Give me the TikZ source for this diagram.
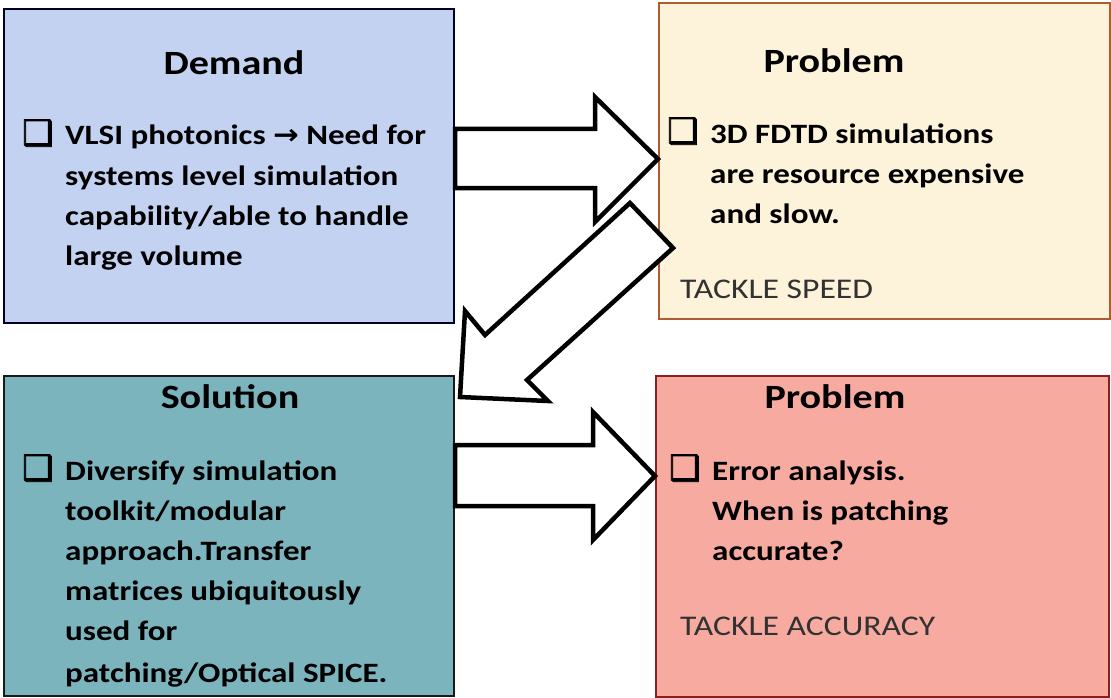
\documentclass[tikz,border=0pt]{standalone}
\usepackage{fontspec}
\setmainfont[FakeStretch=1.18]{Carlito}
\newfontfamily\dejavu[FakeStretch=1.1]{DejaVu Sans}
\newfontfamily\bulfont[FakeBold=2.5]{DejaVu Sans}
\usetikzlibrary{calc}
\definecolor{demandc}{RGB}{196,210,242}
\definecolor{solc}{RGB}{124,180,190}
\definecolor{probAc}{RGB}{253,242,218}
\definecolor{probBc}{RGB}{246,170,160}
\definecolor{probAline}{RGB}{178,90,50}
\definecolor{probBline}{RGB}{140,30,30}
\definecolor{tacklec}{RGB}{50,50,50}
\begin{document}
\begin{tikzpicture}[x=1pt,y=-1pt,
  box/.style={draw, line width=2pt, anchor=north west, inner sep=0pt},
  title/.style={font=\bfseries\fontsize{34}{40}\selectfont, anchor=base, inner sep=0pt},
  body/.style={font=\bfseries\fontsize{28}{40}\selectfont, anchor=base west, inner sep=0pt},
  tackle/.style={font=\fontsize{28.5}{40}\selectfont, text=tacklec, anchor=base west, inner sep=0pt},
  bul/.style={font=\bulfont\fontsize{35}{40}\selectfont, anchor=base west, inner sep=0pt},
  blockarrow/.style={draw=black, line width=4.5pt, fill=white, line join=miter}]
\useasboundingbox (0,0) rectangle (1111,698);
\fill[white] (0,0) rectangle (1111,698);

% boxes
\node[box, fill=demandc, draw=black!85!blue, minimum width=450pt, minimum height=314pt] (demand) at (3,8) {};
\node[box, fill=probAc, draw=probAline, minimum width=451pt, minimum height=316pt] (probA) at (658,2) {};
\node[box, fill=solc, draw=black!90, minimum width=450pt, minimum height=320pt] (sol) at (3,375) {};
\node[box, fill=probBc, draw=probBline, minimum width=453pt, minimum height=321pt] (probB) at (655,375) {};

% Demand text
\node[title] (dt) at (234,75) {Demand};
\node[bul] (db) at (22,145) {❑};
\node[body] (d1) at (65,145) {VLSI photonics {\dejavu\bfseries →} Need for};
\node[body] (d2) at (65,185) {systems level simulation};
\node[body] (d3) at (65,225) {capability/able to handle};
\node[body] (d4) at (65,265) {large volume};

% Problem A text
\node[title] (pat) at (834,73) {Problem};
\node[bul] (pab) at (667,143) {❑};
\node[body] (pa1) at (710,143) {3D FDTD simulations};
\node[body] (pa2) at (710,183) {are resource expensive};
\node[body] (pa3) at (710,223) {and slow.};
\node[tackle] (pa4) at (680,298) {TACKLE SPEED};

% Solution text
\node[title] (st) at (230,408) {Solution};
\node[bul] (sb) at (22,480) {❑};
\node[body] (s1) at (65,480) {Diversify simulation};
\node[body] (s2) at (65,520) {toolkit/modular};
\node[body] (s3) at (65,560) {approach.Transfer};
\node[body] (s4) at (65,600) {matrices ubiquitously};
\node[body] (s5) at (65,640) {used for};
\node[body] (s6) at (65,682) {patching/Optical SPICE.};

% Problem B text
\node[title] (pbt) at (835,408) {Problem};
\node[bul] (pbb) at (669,480) {❑};
\node[body] (pb1) at (712,480) {Error analysis.};
\node[body] (pb2) at (712,520) {When is patching};
\node[body] (pb3) at (712,560) {accurate?};
\node[tackle] (pb4) at (680,635) {TACKLE ACCURACY};

% block arrows
\coordinate (tipA) at (probA.west |- 0,159);
\draw[blockarrow] (demand.east |- 0,129) -- (595,129) -- (595,97) -- (tipA)
  -- (595,222) -- (595,188) -- (demand.east |- 0,188) -- cycle;

\coordinate (tipB) at (probB.west |- 0,476);
\draw[blockarrow] (sol.east |- 0,445) -- (593,445) -- (593,412) -- (tipB)
  -- (593,540) -- (593,506) -- (sol.east |- 0,506) -- cycle;

\coordinate (tipC) at (460,397);
\draw[blockarrow] (630,203) -- (485,335) -- (465,311) -- (tipC)
  -- (548,401) -- (527,380) -- (673,248) -- cycle;
\end{tikzpicture}
\end{document}
